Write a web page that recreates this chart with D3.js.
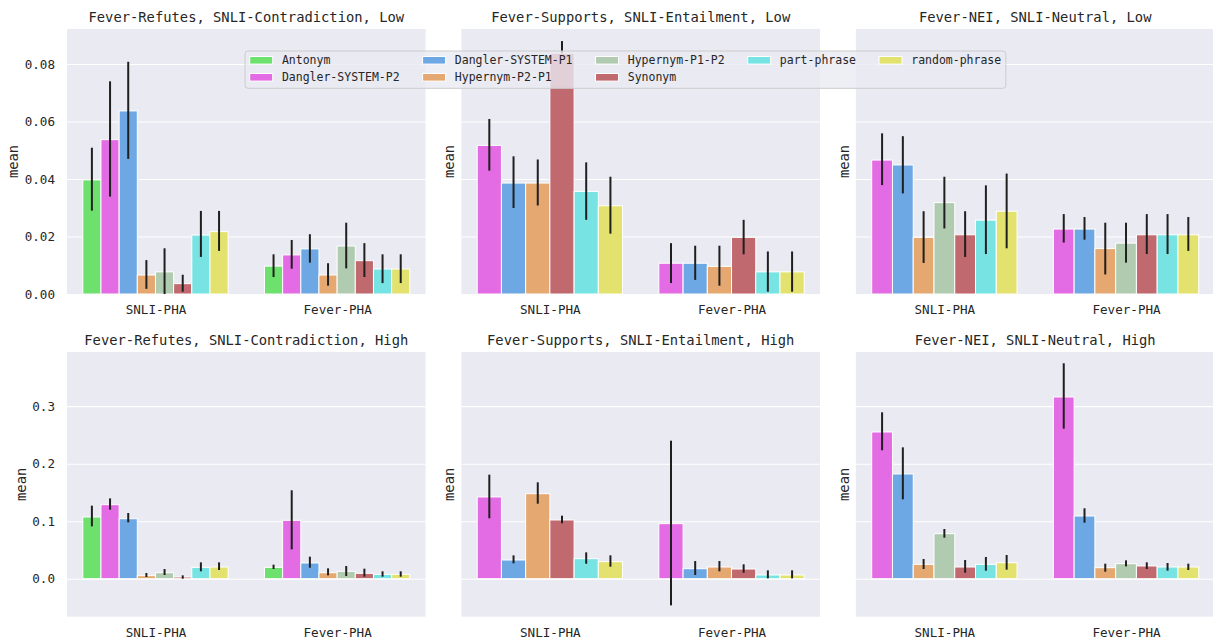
<!DOCTYPE html>
<html><head><meta charset="utf-8">
<script src="https://cdn.jsdelivr.net/npm/d3@7"></script>
<style>
body{margin:0;background:#fff;}
text{font-family:"DejaVu Sans Mono",monospace;fill:#262626;}
</style></head>
<body><svg id="chart" width="1213" height="644"></svg>
<script>
const categories = ["SNLI-PHA", "Fever-PHA"];
const hueOrder = ["Antonym","Dangler-SYSTEM-P2","Dangler-SYSTEM-P1","Hypernym-P2-P1","Hypernym-P1-P2","Synonym","part-phrase","random-phrase"];
const hueColors = ["#6ee06e","#e36be3","#6ea8e4","#e4a870","#b0cbb0","#c0696f","#77e3e3","#e3e26f"];
const panelTitles = [
  "Fever-Refutes, SNLI-Contradiction, Low",
  "Fever-Supports, SNLI-Entailment, Low",
  "Fever-NEI, SNLI-Neutral, Low",
  "Fever-Refutes, SNLI-Contradiction, High",
  "Fever-Supports, SNLI-Entailment, High",
  "Fever-NEI, SNLI-Neutral, High"
];
const huesA = ["Antonym","Dangler-SYSTEM-P2","Dangler-SYSTEM-P1","Hypernym-P2-P1","Hypernym-P1-P2","Synonym","part-phrase","random-phrase"];
const huesB = ["Dangler-SYSTEM-P2","Dangler-SYSTEM-P1","Hypernym-P2-P1","Synonym","part-phrase","random-phrase"];
const huesC = ["Dangler-SYSTEM-P2","Dangler-SYSTEM-P1","Hypernym-P2-P1","Hypernym-P1-P2","Synonym","part-phrase","random-phrase"];
const yTicksLow = [0, 0.02, 0.04, 0.06, 0.08];
const yTicksHigh = [0, 0.1, 0.2, 0.3];

// Panel 1: rows = categories, columns = huesA
const p1Mean = [[0.0397,0.0537,0.0637,0.0066,0.0077,0.0036,0.0205,0.0217],[0.0097,0.0136,0.0157,0.0066,0.0167,0.0116,0.0087,0.0087]];
const p1Lo   = [[0.0290,0.0339,0.0470,0.0018,0.0000,0.0008,0.0129,0.0150],[0.0059,0.0088,0.0109,0.0029,0.0089,0.0059,0.0038,0.0038]];
const p1Hi   = [[0.0509,0.0740,0.0808,0.0118,0.0159,0.0067,0.0289,0.0289],[0.0138,0.0188,0.0208,0.0107,0.0248,0.0177,0.0138,0.0138]];
// Panel 2: huesB
const p2Mean = [[0.0517,0.0386,0.0386,0.0838,0.0357,0.0307],[0.0107,0.0107,0.0096,0.0197,0.0077,0.0077]];
const p2Lo   = [[0.0429,0.0299,0.0308,0.0838,0.0258,0.0210],[0.0038,0.0049,0.0029,0.0138,0.0008,0.0008]];
const p2Hi   = [[0.0609,0.0479,0.0468,0.0880,0.0458,0.0408],[0.0177,0.0168,0.0168,0.0258,0.0148,0.0148]];
// Panel 3: huesC
const p3Mean = [[0.0466,0.0449,0.0197,0.0318,0.0206,0.0257,0.0288],[0.0226,0.0226,0.0158,0.0177,0.0206,0.0206,0.0206]];
const p3Lo   = [[0.0379,0.0350,0.0108,0.0228,0.0129,0.0139,0.0159],[0.0179,0.0189,0.0068,0.0109,0.0139,0.0139,0.0150]];
const p3Hi   = [[0.0559,0.0549,0.0288,0.0408,0.0288,0.0378,0.0419],[0.0278,0.0268,0.0248,0.0248,0.0278,0.0278,0.0268]];
// Panel 4: huesA
const p4Mean = [[0.1073,0.1287,0.1043,0.0052,0.0104,0.0029,0.0197,0.0203],[0.0197,0.1015,0.0273,0.0104,0.0128,0.0093,0.0075,0.0075]];
const p4Lo   = [[0.0910,0.1200,0.0980,0.0029,0.0064,0.0000,0.0128,0.0151],[0.0168,0.0510,0.0191,0.0058,0.0046,0.0035,0.0035,0.0035]];
const p4Hi   = [[0.1270,0.1397,0.1142,0.0099,0.0168,0.0058,0.0284,0.0284],[0.0244,0.1537,0.0383,0.0180,0.0220,0.0174,0.0128,0.0128]];
// Panel 5: huesB
const p5Mean = [[0.1421,0.0325,0.1478,0.1021,0.0348,0.0296],[0.0957,0.0174,0.0203,0.0168,0.0064,0.0064]];
const p5Lo   = [[0.1050,0.0267,0.1304,0.0963,0.0260,0.0209],[-0.0464,0.0064,0.0128,0.0104,0.0006,0.0006]];
const p5Hi   = [[0.1809,0.0406,0.1676,0.1096,0.0458,0.0406],[0.2400,0.0307,0.0307,0.0250,0.0145,0.0145]];
// Panel 6: huesC
const p6Mean = [[0.2551,0.1821,0.0249,0.0783,0.0203,0.0249,0.0278],[0.3160,0.1090,0.0191,0.0261,0.0221,0.0203,0.0203]];
const p6Lo   = [[0.2233,0.1380,0.0168,0.0713,0.0104,0.0139,0.0157],[0.2609,0.0974,0.0122,0.0214,0.0168,0.0139,0.0151]];
const p6Hi   = [[0.2893,0.2284,0.0342,0.0864,0.0325,0.0377,0.0412],[0.3746,0.1224,0.0261,0.0319,0.0284,0.0273,0.0261]];

const panels = [
  {title: panelTitles[0], hues: huesA, mean: p1Mean, lo: p1Lo, hi: p1Hi, row: 0, col: 0},
  {title: panelTitles[1], hues: huesB, mean: p2Mean, lo: p2Lo, hi: p2Hi, row: 0, col: 1},
  {title: panelTitles[2], hues: huesC, mean: p3Mean, lo: p3Lo, hi: p3Hi, row: 0, col: 2},
  {title: panelTitles[3], hues: huesA, mean: p4Mean, lo: p4Lo, hi: p4Hi, row: 1, col: 0},
  {title: panelTitles[4], hues: huesB, mean: p5Mean, lo: p5Lo, hi: p5Hi, row: 1, col: 1},
  {title: panelTitles[5], hues: huesC, mean: p6Mean, lo: p6Lo, hi: p6Hi, row: 1, col: 2}
];

const svg = d3.select("#chart");
const colLeft = [67, 461.4, 855.9];
const panelW = 358.6;
const rowTop = [29, 352];
const rowBottom = [294, 616.7];
const yDomains = [[0, 0.0922], [-0.0661, 0.3942]];
const rowTicks = [yTicksLow, yTicksHigh];
const rowFmt = [d3.format(".2f"), d3.format(".1f")];
const colorOf = h => hueColors[hueOrder.indexOf(h)];

panels.forEach(p => {
  const L = colLeft[p.col], T = rowTop[p.row], B = rowBottom[p.row], R = L + panelW;
  const x = d3.scaleLinear().domain([-0.487, 1.487]).range([L, R]);
  const y = d3.scaleLinear().domain(yDomains[p.row]).range([B, T]);
  const g = svg.append("g");
  g.append("rect").attr("x", L).attr("y", T).attr("width", panelW).attr("height", B - T).attr("fill", "#EAEAF2");
  const grid = g.append("g").attr("transform", `translate(${L},0)`)
    .call(d3.axisLeft(y).tickValues(rowTicks[p.row]).tickSize(-panelW).tickFormat(""));
  grid.select(".domain").remove();
  grid.selectAll("line").attr("stroke", "#fff").attr("stroke-width", 1.1);
  if (p.col === 0) {
    const ya = g.append("g").attr("transform", `translate(${L},0)`)
      .call(d3.axisLeft(y).tickValues(rowTicks[p.row]).tickSize(0).tickPadding(12).tickFormat(rowFmt[p.row]));
    ya.select(".domain").remove();
    ya.selectAll("text").attr("font-size", 12.6).attr("fill", "#262626").attr("font-family", "DejaVu Sans Mono");
  }
  const xa = g.append("g").attr("transform", `translate(0,${B})`)
    .call(d3.axisBottom(x).tickValues([0, 1]).tickSize(0).tickPadding(11).tickFormat(i => categories[i]));
  xa.select(".domain").remove();
  xa.selectAll("text").attr("font-size", 12.6).attr("fill", "#262626").attr("font-family", "DejaVu Sans Mono");
  const ylx = p.col === 0 ? (p.row === 0 ? 13.3 : 21) : L - 12.2;
  g.append("text").attr("transform", `translate(${ylx},${(T + B) / 2}) rotate(-90)`)
    .attr("text-anchor", "middle").attr("dominant-baseline", "central")
    .attr("font-size", 13.8).text("mean");
  g.append("text").attr("x", (L + R) / 2).attr("y", T - 12.4)
    .attr("text-anchor", "middle").attr("dominant-baseline", "central")
    .attr("font-size", 13.8).text(p.title);
  const n = p.hues.length;
  const bw = 0.8 / n;
  const bars = [];
  categories.forEach((c, ci) => {
    p.hues.forEach((h, hi) => {
      bars.push({ci, h, x0: ci - 0.4 + hi * bw, m: p.mean[ci][hi], lo: p.lo[ci][hi], hi: p.hi[ci][hi]});
    });
  });
  g.append("g").selectAll("rect").data(bars).join("rect")
    .attr("x", d => x(d.x0)).attr("width", d => x(d.x0 + bw) - x(d.x0))
    .attr("y", d => y(Math.max(0, d.m))).attr("height", d => Math.abs(y(d.m) - y(0)))
    .attr("fill", d => colorOf(d.h)).attr("stroke", "#fff").attr("stroke-width", 1);
  g.append("g").selectAll("line").data(bars).join("line")
    .attr("x1", d => x(d.x0 + bw / 2)).attr("x2", d => x(d.x0 + bw / 2))
    .attr("y1", d => y(d.lo)).attr("y2", d => y(d.hi))
    .attr("stroke", "#1f1f1f").attr("stroke-width", 2);
});

// legend
const legendOrder = [["Antonym","Dangler-SYSTEM-P2"],["Dangler-SYSTEM-P1","Hypernym-P2-P1"],["Hypernym-P1-P2","Synonym"],["part-phrase"],["random-phrase"]];
const lg = svg.append("g");
const frame = lg.append("rect");
const fs = 11.5;
const rowsY = [60.3, 77.3];
let cx = 249.7;
const items = lg.append("g");
legendOrder.forEach(colItems => {
  let maxW = 0;
  colItems.forEach((h, ri) => {
    items.append("rect").attr("x", cx).attr("y", rowsY[ri] - 3.8).attr("width", 23).attr("height", 7.6)
      .attr("fill", colorOf(h)).attr("stroke", "#fff").attr("stroke-width", 1);
    const t = items.append("text").attr("x", cx + 32.2).attr("y", rowsY[ri]).attr("dominant-baseline", "central")
      .attr("font-size", fs).text(h);
    maxW = Math.max(maxW, t.node().getComputedTextLength());
  });
  cx += 32.2 + maxW + 23;
});
const legendRight = cx - 23 + 4.6;
frame.attr("x", 245).attr("y", 51).attr("width", legendRight - 245).attr("height", 37.3)
  .attr("rx", 3).attr("fill", "#EAEAF2").attr("fill-opacity", 0.8).attr("stroke", "#cccccc").attr("stroke-width", 1);
</script></body></html>
